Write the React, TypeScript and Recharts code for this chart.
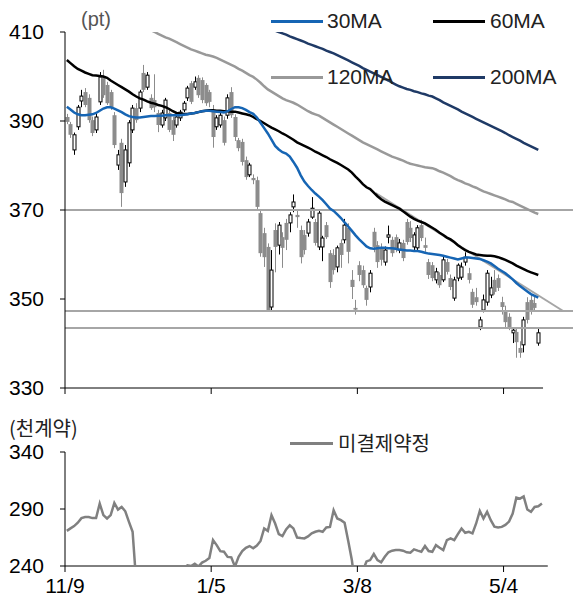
import React from "react";
import { ComposedChart, Bar, Line, XAxis, YAxis, ReferenceLine } from "recharts";

// daily candles from 11/9, [open, high, low, close]
const candles: [number, number, number, number][] = [
  [390.9, 391.6, 389.3, 389.8], [389.3, 389.8, 386.2, 386.9], [383.5, 387.4, 382.4, 386.9], [388.7, 393.6, 388.0, 393.1], [394.5, 397.0, 393.1, 395.6],
  [396.5, 397.4, 393.1, 393.6], [395.2, 396.0, 389.6, 390.2], [390.2, 391.0, 386.6, 387.3], [388.0, 391.6, 387.3, 390.9], [394.3, 401.0, 393.6, 399.9],
  [399.9, 401.5, 395.2, 395.8], [398.1, 398.8, 393.6, 394.0], [396.5, 397.0, 392.5, 393.1], [391.3, 392.0, 383.9, 384.6], [380.1, 383.5, 379.0, 382.4],
  [385.1, 386.0, 370.7, 373.8], [376.3, 384.6, 375.2, 383.5], [380.6, 390.2, 379.7, 389.6], [388.0, 393.6, 387.3, 392.9], [392.9, 394.0, 389.6, 390.2],
  [392.9, 397.0, 392.0, 396.5], [400.8, 402.6, 396.5, 397.0], [397.6, 401.0, 397.0, 400.3], [395.2, 396.0, 392.5, 392.9], [394.7, 400.5, 392.0, 393.1],
  [391.8, 392.5, 387.5, 389.1], [389.1, 392.5, 388.5, 391.8], [390.7, 395.2, 390.0, 394.7], [391.8, 392.5, 387.5, 388.0], [390.2, 391.0, 385.5, 386.9],
  [389.1, 391.6, 388.5, 390.9], [390.7, 392.5, 390.0, 392.0], [392.5, 394.5, 392.0, 394.0], [395.2, 397.9, 394.5, 397.4], [398.5, 399.0, 393.8, 394.3],
  [397.6, 400.0, 397.0, 398.8], [399.7, 400.3, 395.2, 395.8], [399.2, 399.8, 394.0, 394.7], [398.1, 398.5, 393.4, 394.0], [396.5, 397.0, 393.1, 394.3],
  [392.5, 393.6, 384.0, 386.4], [388.7, 391.3, 388.0, 390.7], [389.1, 392.0, 388.5, 391.3], [390.2, 391.0, 384.5, 385.1], [391.3, 396.0, 390.5, 395.2],
  [396.5, 397.6, 390.7, 391.3], [390.9, 391.5, 385.5, 386.4], [385.7, 386.2, 383.2, 383.9], [385.3, 386.0, 380.0, 380.8], [381.2, 382.0, 376.8, 377.4],
  [377.9, 380.6, 377.4, 380.1], [377.2, 378.0, 375.8, 376.7], [376.7, 377.5, 370.0, 370.7], [369.3, 370.2, 359.5, 360.3], [364.8, 366.0, 357.2, 359.4],
  [361.7, 362.5, 347.2, 347.5], [348.2, 361.0, 347.5, 356.5], [365.5, 367.0, 356.0, 361.7], [362.1, 367.3, 360.0, 366.6], [363.9, 365.0, 357.0, 361.5],
  [367.1, 368.0, 361.0, 363.3], [367.1, 369.5, 365.0, 368.9], [370.7, 373.5, 369.5, 371.8], [368.9, 370.0, 366.0, 368.4], [365.5, 366.5, 358.0, 359.4],
  [364.4, 365.5, 360.0, 361.0], [364.8, 368.0, 364.0, 367.3], [368.4, 372.9, 368.0, 370.4], [367.3, 368.0, 362.0, 362.6], [361.7, 370.0, 361.0, 369.3],
  [361.7, 364.2, 358.5, 363.7], [366.6, 367.3, 363.5, 363.9], [360.3, 361.0, 352.5, 353.8], [359.9, 361.2, 355.5, 356.5], [357.2, 362.0, 356.0, 361.5],
  [362.6, 363.4, 357.0, 359.9], [363.3, 368.0, 362.5, 366.6], [366.0, 367.0, 358.0, 360.6], [354.3, 356.5, 350.0, 352.7], [348.0, 349.8, 346.5, 347.6],
  [357.6, 358.5, 354.0, 355.4], [356.5, 357.5, 352.5, 353.1], [352.5, 353.0, 348.5, 349.8], [352.7, 356.5, 351.5, 355.8], [365.1, 366.0, 360.5, 361.7],
  [362.1, 363.0, 357.0, 358.3], [361.5, 362.5, 357.5, 358.8], [358.3, 361.8, 357.5, 361.0], [363.9, 366.5, 362.5, 364.4], [363.3, 364.0, 359.5, 360.3],
  [363.9, 364.5, 360.5, 361.0], [361.0, 363.5, 360.3, 362.6], [362.6, 363.3, 358.5, 359.2], [367.3, 368.0, 362.2, 362.8], [366.0, 367.5, 362.8, 363.7],
  [361.7, 365.0, 361.0, 364.4], [361.5, 366.6, 361.0, 366.0], [366.6, 367.8, 363.0, 363.7], [362.1, 363.8, 360.6, 361.5], [358.3, 359.0, 354.5, 355.4],
  [357.6, 358.3, 354.0, 354.7], [354.3, 357.0, 353.5, 356.1], [355.4, 356.0, 352.5, 353.1], [354.3, 359.5, 353.8, 358.8], [358.3, 359.0, 355.5, 356.1],
  [354.7, 355.5, 352.0, 352.7], [350.2, 355.0, 349.6, 354.3], [354.7, 358.0, 354.0, 357.6], [354.9, 358.2, 354.3, 357.2], [358.3, 360.5, 357.5, 359.4],
  [355.8, 357.0, 353.5, 354.3], [351.6, 352.3, 348.0, 348.7], [350.4, 352.5, 348.5, 349.3], [343.7, 346.0, 343.0, 345.3], [347.5, 351.0, 347.0, 349.8],
  [349.3, 356.5, 348.5, 355.8], [350.9, 355.0, 350.2, 352.5], [354.3, 356.5, 351.0, 351.6], [354.7, 355.5, 351.8, 352.5], [349.3, 350.5, 346.5, 348.2],
  [347.5, 348.5, 343.7, 344.8], [346.0, 346.8, 343.0, 343.7], [342.4, 343.7, 340.1, 343.0], [342.6, 343.5, 336.8, 340.3], [339.0, 340.5, 336.8, 337.9],
  [339.7, 346.0, 338.0, 345.3], [349.3, 350.4, 344.5, 345.3], [349.8, 351.0, 346.5, 347.1], [349.1, 350.9, 347.5, 348.0], [340.1, 343.7, 339.5, 342.4],
];

const ma30 = [
  393.2, 392.6, 391.9, 391.5, 391.3, 391.3, 391.4, 391.5, 391.8, 392.3,
  392.8, 393.1, 393.1, 392.8, 392.4, 392.0, 391.5, 391.1, 390.9, 390.8,
  390.8, 390.9, 391.0, 391.1, 391.1, 391.2, 391.2, 391.3, 391.3, 391.3,
  391.3, 391.3, 391.4, 391.5, 391.7, 391.8, 392.0, 392.2, 392.3, 392.3,
  392.2, 392.1, 392.0, 391.9, 392.2, 392.7, 393.1, 393.1, 392.9, 392.5,
  392.0, 391.6, 390.8, 389.6, 388.4, 387.2, 385.8, 384.4, 383.6, 383.0,
  382.7, 382.0, 380.8, 379.5, 377.8, 376.4, 375.4, 374.5, 373.7, 373.0,
  372.2, 371.3, 370.3, 369.8, 369.0, 368.2, 367.2, 366.3, 365.3, 364.3,
  363.4, 362.6, 361.8, 361.4, 361.3, 361.4, 361.5, 361.5, 361.4, 361.4,
  361.3, 361.1, 361.0, 360.9, 360.9, 360.8, 360.8, 360.6, 360.4, 360.2,
  360.1, 360.0, 359.9, 359.7, 359.5, 359.3, 359.1, 358.9, 359.1, 359.3,
  359.3, 359.2, 359.1, 359.0, 358.7, 358.4, 358.0, 357.4, 356.8, 356.3,
  355.8, 355.1, 354.4, 353.6, 352.9, 352.3, 351.7, 351.1, 350.7, 350.3,
];

const ma60 = [
  403.7, 403.0, 402.3, 401.7, 401.3, 400.9, 400.6, 400.3, 400.2, 400.1,
  400.0, 399.7, 399.1, 398.6, 398.1, 397.6, 397.1, 396.6, 396.0, 395.5,
  395.1, 394.8, 394.4, 394.1, 393.9, 393.6, 393.4, 393.1, 392.7, 392.2,
  391.8, 391.7, 391.6, 391.6, 391.7, 391.8, 392.0, 392.2, 392.3, 392.4,
  392.4, 392.3, 392.3, 392.2, 392.2, 392.1, 392.1, 391.9, 391.7, 391.5,
  391.3, 390.9, 390.4, 390.0, 389.5, 389.0, 388.5, 388.1, 387.7, 387.2,
  386.8, 386.3, 385.8, 385.2, 384.8, 384.4, 384.0, 383.6, 383.1, 382.7,
  382.3, 381.9, 381.4, 381.0, 380.6, 380.1, 379.6, 379.1, 378.4, 377.5,
  376.7, 375.8, 375.1, 374.7, 373.9, 373.1, 372.4, 371.9, 371.5, 371.1,
  370.7, 370.3, 369.7, 369.1, 368.5, 368.0, 367.6, 367.3, 367.0, 366.5,
  366.0, 365.5, 364.9, 364.4, 363.8, 363.4, 362.8, 362.1, 361.5, 361.0,
  360.6, 360.3, 360.0, 359.9, 359.8, 359.7, 359.7, 359.6, 359.4, 359.1,
  358.8, 358.4, 358.0, 357.5, 357.1, 356.7, 356.3, 356.0, 355.7, 355.4,
];

// 120MA is off the top of the scale before day 22
const ma120Start = 22;
const ma120 = [
  410.7, 410.4, 410.0, 409.6, 409.2, 408.8, 408.5, 408.1,
  407.7, 407.3, 406.9, 406.5, 406.1, 405.8, 405.5, 405.2, 404.9, 404.7,
  404.5, 404.2, 403.8, 403.4, 403.0, 402.6, 402.2, 401.7, 401.3, 400.8,
  400.3, 399.9, 399.3, 398.6, 397.8, 397.1, 396.6, 396.1, 395.6, 395.1,
  394.7, 394.4, 394.1, 393.7, 393.2, 392.7, 392.2, 391.8, 391.5, 391.2,
  390.7, 390.2, 389.7, 389.2, 388.7, 388.2, 387.7, 387.2, 386.7, 386.2,
  385.7, 385.2, 384.8, 384.4, 384.0, 383.6, 383.2, 382.8, 382.4, 382.0,
  381.7, 381.4, 381.1, 380.7, 380.4, 380.2, 380.0, 379.8, 379.6, 379.5,
  379.4, 379.1, 378.7, 378.4, 378.0, 377.6, 377.1, 376.7, 376.4, 376.0,
  375.7, 375.3, 375.0, 374.6, 374.2, 373.9, 373.6, 373.3, 373.0, 372.7,
  372.4, 372.0, 371.8, 371.4, 371.0, 370.6, 370.2, 369.8, 369.4, 369.1,
];

const ma200Start = 55;
const ma200 = [
  410.9, 410.6, 410.3, 410.0, 409.7,
  409.4, 409.0, 408.7, 408.4, 408.1, 407.8, 407.4, 407.1, 406.8, 406.5,
  406.2, 405.8, 405.5, 405.2, 404.8, 404.4, 404.0, 403.6, 403.2, 402.8,
  402.4, 401.9, 401.5, 401.1, 400.7, 400.3, 399.9, 399.5, 399.1, 398.6,
  398.2, 397.8, 397.5, 397.2, 397.0, 396.7, 396.5, 396.2, 396.0, 395.7,
  395.5, 395.1, 394.7, 394.2, 393.8, 393.4, 393.0, 392.6, 392.1, 391.7,
  391.3, 390.9, 390.5, 390.1, 389.7, 389.3, 388.9, 388.5, 388.1, 387.7,
  387.3, 386.8, 386.4, 386.0, 385.6, 385.1, 384.7, 384.3, 383.9, 383.5,
];

// open interest (thousand contracts); values under 240 fall below the panel
const openInterest = [
  270.8, 273, 275, 278, 282, 283, 283, 282, 282, 294.8,
  284.6, 281.7, 284.6, 295.3, 289.5, 291.8, 288, 278.7, 270, 225,
  225, 225, 225, 225, 225, 225, 225, 225, 225, 225,
  225, 225, 238, 240.5, 240, 242, 239.5, 243, 244.6, 247,
  262.7, 258.3, 253, 252.5, 248, 247.6, 239.5, 248, 253, 256,
  257.5, 255.5, 258, 262, 272.9, 270.8, 284.6, 277.3, 268, 266.2,
  272, 275.8, 273, 265, 264.5, 264.2, 266, 268.6, 270, 270.8,
  270, 273.8, 274.3, 288.9, 281.7, 280.2, 278, 262, 245, 220,
  220, 236, 244, 245.2, 250.5, 245.2, 243.2, 248.1, 252, 253.4,
  254, 254, 253.4, 252, 251.6, 254.6, 253.5, 252.5, 257.5, 253.1,
  252.5, 258.3, 256, 254, 262.7, 264.2, 262.7, 268, 272.9, 269.1,
  270, 268.6, 277.3, 288.3, 281.7, 287.5, 280.2, 274.5, 273.8, 274.3,
  276, 279, 286, 300, 299.1, 301.1, 289.5, 287.5, 291.8, 292.4,
  294.8,
];

const tickIdx = [0, 40, 80, 120];
const tickLabels = ["11/9", "1/5", "3/8", "5/4"];
const levelLines = [370, 347.3, 343.5];
const trendLine = [{ x: 85, y: 373.8 }, { x: 136.3, y: 347.3 }];

const priceRows = candles.map((c, i) => ({
  x: i + 0.5,
  ohlc: c,
  range: [c[2], c[1]],
  ma30: ma30[i] ?? null,
  ma60: ma60[i] ?? null,
  ma120: i >= ma120Start ? ma120[i - ma120Start] ?? null : null,
  ma200: i >= ma200Start ? ma200[i - ma200Start] ?? null : null,
}));

const oiRows = openInterest.map((v, i) => ({ x: i + 0.5, oi: v }));

const FONT = "'Liberation Sans', Arial, sans-serif";
const KFONT = "'Noto Sans CJK KR', 'Liberation Sans', sans-serif";

function Candle(props: any) {
  const { x, y, width, height, payload } = props;
  if (!payload || !payload.ohlc || height == null) return null;
  const [o, h, l, c] = payload.ohlc;
  const top = Math.min(y, y + height);
  const span = Math.abs(height);
  const py = (v: number) => top + (span * (h - v)) / (h - l || 1);
  const cx = Math.round(x + width / 2) + 0.5;
  const up = c >= o;
  const bTop = py(Math.max(o, c));
  const bH = Math.max(py(Math.min(o, c)) - bTop, 1);
  return (
    <g>
      <line x1={cx} x2={cx} y1={top} y2={top + span} stroke={up ? "#000" : "#8c8c8c"} strokeWidth={1} />
      {up ? (
        <rect x={cx - 1.5} y={bTop} width={3} height={bH} fill="#fff" stroke="#000" strokeWidth={1} />
      ) : (
        <rect x={cx - 2} y={bTop} width={4} height={bH} fill="#8c8c8c" />
      )}
    </g>
  );
}

const legendText: React.CSSProperties = { position: "absolute", fontSize: 21, lineHeight: "24px", color: "#222", fontFamily: FONT };

export default function App() {
  return (
    <div style={{ position: "absolute", left: 0, top: 0, width: 573, height: 598, background: "#fff", fontFamily: FONT }}>
      {/* price panel */}
      <div style={{ position: "absolute", left: 0, top: 0 }}>
        <ComposedChart width={573} height={400} data={priceRows} margin={{ top: 32, right: 0, bottom: 0, left: 0 }}>
          <XAxis
            type="number"
            dataKey="x"
            domain={[0, 139]}
            ticks={tickIdx}
            interval={0}
            allowDataOverflow
            axisLine={false}
            tickFormatter={() => ""}
            tickSize={6}
            tickLine={{ stroke: "#000" }}
            height={12}
          />
          <YAxis
            type="number"
            domain={[330, 410]}
            ticks={[330, 350, 370, 390, 410]}
            interval={0}
            allowDataOverflow
            width={65}
            tickSize={5}
            tickMargin={16}
            axisLine={{ stroke: "#000" }}
            tickLine={{ stroke: "#000" }}
            tick={{ fontSize: 21, fill: "#000" }}
          />
          {levelLines.map((v) => (
            <ReferenceLine key={v} y={v} stroke="#a6a6a6" strokeWidth={2} />
          ))}
          <ReferenceLine segment={trendLine} stroke="#a6a6a6" strokeWidth={2} ifOverflow="visible" />
          <ReferenceLine segment={[{ x: 0, y: 330 }, { x: 130.8, y: 330 }]} stroke="#000" strokeWidth={1} ifOverflow="visible" />
          <Bar dataKey="range" barSize={4} shape={(p: any) => <Candle {...p} />} isAnimationActive={false} />
          <Line type="linear" dataKey="ma120" stroke="#999999" strokeWidth={2.5} dot={false} activeDot={false} isAnimationActive={false} />
          <Line type="linear" dataKey="ma200" stroke="#1f3a66" strokeWidth={2.5} dot={false} activeDot={false} isAnimationActive={false} />
          <Line type="linear" dataKey="ma60" stroke="#000000" strokeWidth={2.5} dot={false} activeDot={false} isAnimationActive={false} />
          <Line type="linear" dataKey="ma30" stroke="#1665b4" strokeWidth={2.5} dot={false} activeDot={false} isAnimationActive={false} />
        </ComposedChart>
      </div>

      {/* open interest panel */}
      <div style={{ position: "absolute", left: 0, top: 400 }}>
        <ComposedChart width={573} height={198} data={oiRows} margin={{ top: 52, right: 0, bottom: 0, left: 0 }}>
          <XAxis
            type="number"
            dataKey="x"
            domain={[0, 139]}
            ticks={tickIdx}
            interval={0}
            allowDataOverflow
            axisLine={false}
            tickSize={6}
            tickMargin={6}
            tickLine={{ stroke: "#000" }}
            tickFormatter={(v: number) => tickLabels[tickIdx.indexOf(v)] ?? ""}
            tick={{ fontSize: 21, fill: "#000" }}
            height={32}
          />
          <YAxis
            type="number"
            domain={[240, 340]}
            ticks={[240, 290, 340]}
            interval={0}
            allowDataOverflow
            width={65}
            tickSize={5}
            tickMargin={16}
            axisLine={{ stroke: "#000" }}
            tickLine={{ stroke: "#000" }}
            tick={{ fontSize: 21, fill: "#000" }}
          />
          <ReferenceLine segment={[{ x: 0, y: 240 }, { x: 132.1, y: 240 }]} stroke="#000" strokeWidth={1} ifOverflow="visible" />
          <Line type="linear" dataKey="oi" stroke="#808080" strokeWidth={2.5} dot={false} activeDot={false} isAnimationActive={false} />
        </ComposedChart>
      </div>

      {/* titles and legends */}
      <div style={{ position: "absolute", left: 81, top: 7, fontSize: 20, lineHeight: "24px", color: "#555", fontFamily: FONT }}>(pt)</div>
      <div style={{ position: "absolute", left: 9, top: 416, fontSize: 20, lineHeight: "24px", color: "#222", fontFamily: KFONT }}>(천계약)</div>

      <div style={{ position: "absolute", left: 271, top: 20, width: 52, height: 3, background: "#1665b4" }} />
      <div style={{ ...legendText, left: 327, top: 9 }}>30MA</div>
      <div style={{ position: "absolute", left: 433, top: 20, width: 52, height: 3, background: "#000" }} />
      <div style={{ ...legendText, left: 490, top: 9 }}>60MA</div>
      <div style={{ position: "absolute", left: 271, top: 76, width: 52, height: 3, background: "#999999" }} />
      <div style={{ ...legendText, left: 327, top: 65 }}>120MA</div>
      <div style={{ position: "absolute", left: 433, top: 76, width: 52, height: 3, background: "#1f3a66" }} />
      <div style={{ ...legendText, left: 490, top: 65 }}>200MA</div>

      <div style={{ position: "absolute", left: 290, top: 442, width: 43, height: 3, background: "#808080" }} />
      <div style={{ position: "absolute", left: 338, top: 430, fontSize: 20, lineHeight: "26px", color: "#222", fontFamily: KFONT }}>미결제약정</div>
    </div>
  );
}
